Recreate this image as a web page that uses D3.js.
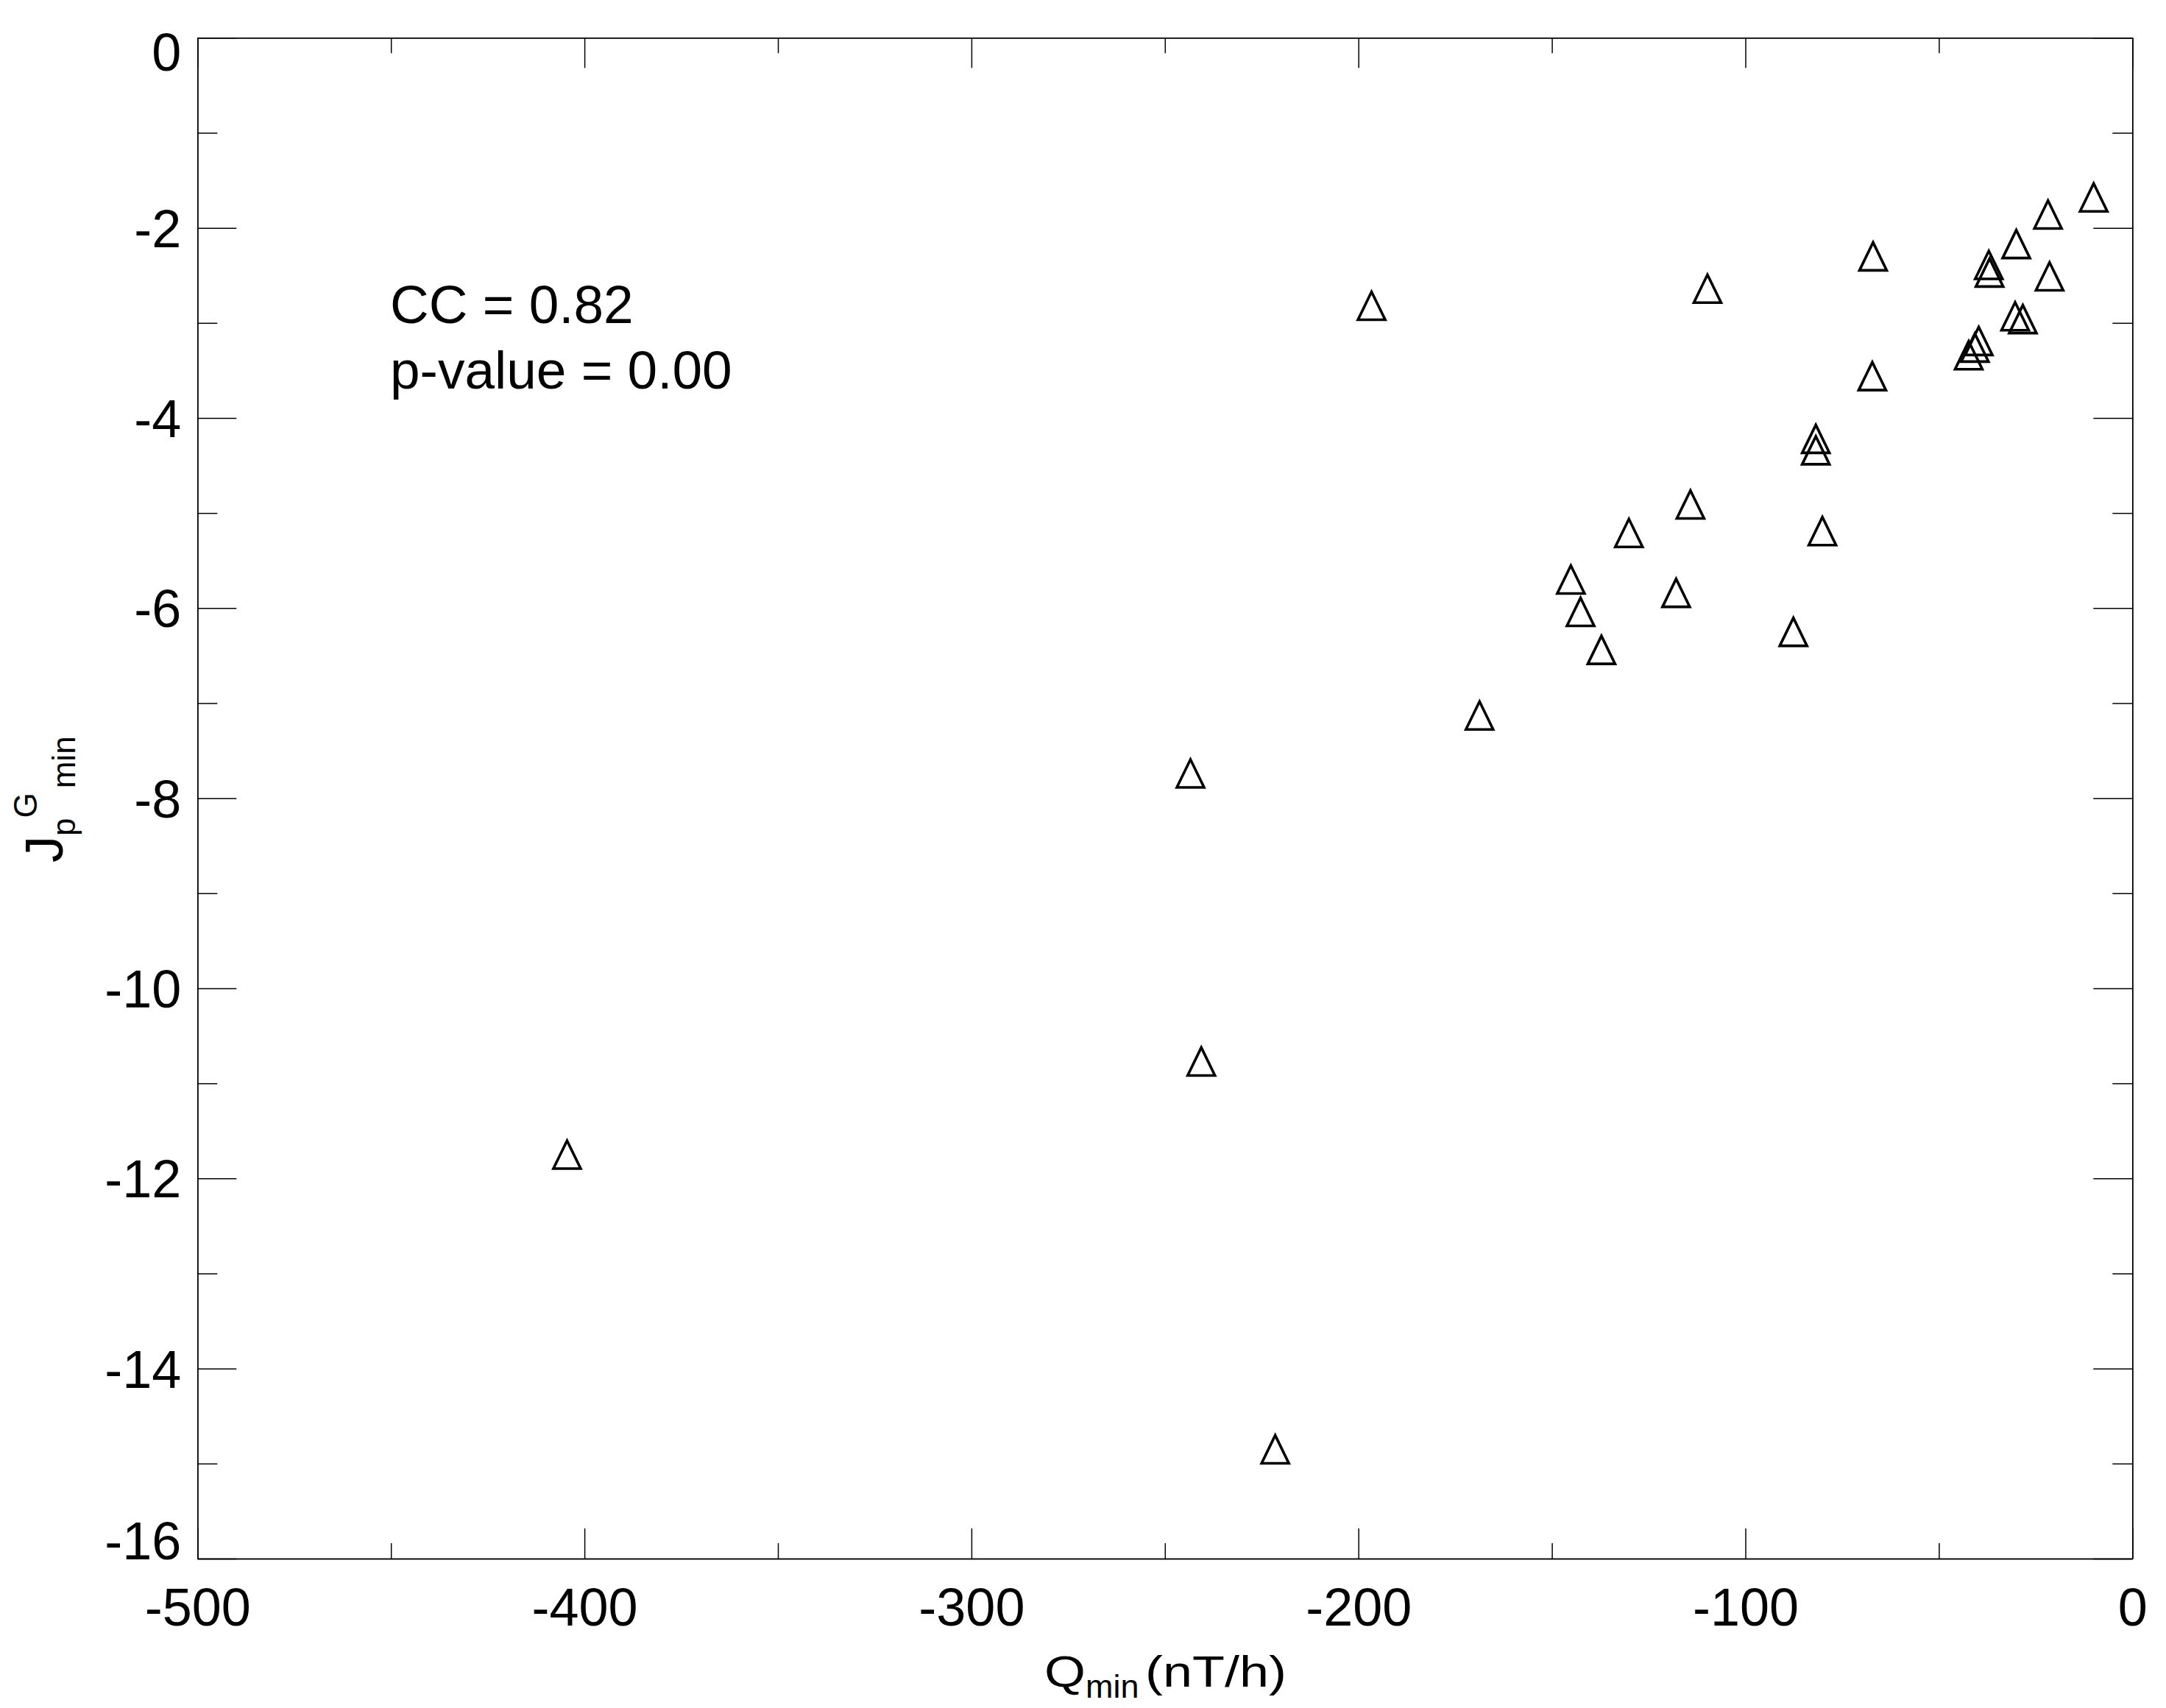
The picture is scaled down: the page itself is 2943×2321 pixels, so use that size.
<!DOCTYPE html>
<html>
<head>
<meta charset="utf-8"/>
<title>Qmin vs Jp min</title>
<script src="https://d3js.org/d3.v7.min.js"></script>
<style>
    body {margin: 0; background-color: white;}
    svg {display: block; font-family: "Liberation Sans", Arial, sans-serif;}
    .axis path, .axis line {stroke: black; stroke-width: 1.5px;}
    .axis text {font-family: "Liberation Sans", Arial, sans-serif; font-size: 72px; fill: black;}
</style>
</head>
<body>
<svg id="chart" width="2943" height="2321"></svg>
<script>

// values
var qmin = [-10.0, -21.8, -30.0, -67.0, -37.1, -36.9, -21.4, -30.3, -28.3, -39.7,
            -40.7, -42.3, -67.2, -109.8, -81.8, -81.8, -114.2, -130.1, -80.1, -145.1,
            -117.9, -142.6, -87.6, -137.2, -196.6, -168.7, -243.4, -240.6, -404.5, -221.5];
var jpmin = [-1.68, -1.86, -2.17, -2.30, -2.39, -2.47, -2.51, -2.93, -2.96, -3.19,
             -3.26, -3.34, -3.56, -2.64, -4.22, -4.34, -4.91, -5.21, -5.19, -5.70,
             -5.84, -6.04, -6.25, -6.44, -2.82, -7.13, -7.74, -10.77, -11.75, -14.85];

var xMajor = [-500, -400, -300, -200, -100, 0];
var xMinor = [-450, -350, -250, -150, -50];
var yMajor = [0, -2, -4, -6, -8, -10, -12, -14, -16];
var yMinor = [-1, -3, -5, -7, -9, -11, -13, -15];

var statLines = ["CC = 0.82", "p-value = 0.00"];

var pLeft = 268.3, pRight = 2897.3, pTop = 51.3, pBottom = 2118;

var svg = d3.select("#chart");
svg.append("rect").attr("width", 2943).attr("height", 2321).attr("fill", "white");

var x = d3.scaleLinear([-500, 0], [pLeft, pRight]);
var y = d3.scaleLinear([-16, 0], [pBottom, pTop]);

function fmt(d) { return String(d); }

// bottom
svg.append("g").attr("class", "axis").attr("transform", "translate(0," + pBottom + ")")
    .call(d3.axisBottom(x).tickValues(xMajor).tickSize(-41).tickSizeOuter(0).tickPadding(40).tickFormat(fmt));
svg.append("g").attr("class", "axis").attr("transform", "translate(0," + pBottom + ")")
    .call(d3.axisBottom(x).tickValues(xMinor).tickSize(-21).tickSizeOuter(0).tickFormat(""));
// top
svg.append("g").attr("class", "axis").attr("transform", "translate(0," + pTop + ")")
    .call(d3.axisTop(x).tickValues(xMajor).tickSize(-41).tickSizeOuter(0).tickFormat(""));
svg.append("g").attr("class", "axis").attr("transform", "translate(0," + pTop + ")")
    .call(d3.axisTop(x).tickValues(xMinor).tickSize(-21).tickSizeOuter(0).tickFormat(""));
// left
var yAx = svg.append("g").attr("class", "axis").attr("transform", "translate(" + pLeft + ",0)")
    .call(d3.axisLeft(y).tickValues(yMajor).tickSize(-53).tickSizeOuter(0).tickPadding(22).tickFormat(fmt));
svg.append("g").attr("class", "axis").attr("transform", "translate(" + pLeft + ",0)")
    .call(d3.axisLeft(y).tickValues(yMinor).tickSize(-27).tickSizeOuter(0).tickFormat(""));
// right
svg.append("g").attr("class", "axis").attr("transform", "translate(" + pRight + ",0)")
    .call(d3.axisRight(y).tickValues(yMajor).tickSize(-53).tickSizeOuter(0).tickFormat(""));
svg.append("g").attr("class", "axis").attr("transform", "translate(" + pRight + ",0)")
    .call(d3.axisRight(y).tickValues(yMinor).tickSize(-27).tickSizeOuter(0).tickFormat(""));

// idl style: end labels pushed inside
yAx.selectAll("text").attr("dy", function(d) {
    if (d == 0) return "44px";
    if (d == -16) return "0px";
    return "25.5px";
});

// triangles
var hw = 18.5, hh = 19;
svg.append("g").selectAll("path")
    .data(d3.range(qmin.length))
    .enter()
    .append("path")
    .attr("d", function(i) {
        var cx = x(qmin[i]), cy = y(jpmin[i]);
        return "M" + (cx - hw) + "," + (cy + hh) + "L" + cx + "," + (cy - hh) +
               "L" + (cx + hw) + "," + (cy + hh) + "Z";
    })
    .attr("fill", "none")
    .attr("stroke", "black")
    .attr("stroke-width", 3.6)
    .attr("stroke-linejoin", "miter");

// stats text
svg.append("g").selectAll("text")
    .data(statLines)
    .enter()
    .append("text")
    .attr("x", 530)
    .attr("y", (d, i) => 439 + i * 89)
    .attr("font-size", 73)
    .text(d => d);

// x title: Q_min(nT/h)
var xt = svg.append("g");
xt.append("text").attr("transform", "translate(1419,2292) scale(1,0.82)")
    .attr("font-size", 72).text("Q");
xt.append("text").attr("x", 1475).attr("y", 2307)
    .attr("font-size", 45).text("min");
xt.append("text").attr("transform", "translate(1556,2292) scale(1,0.82)")
    .attr("font-size", 72).text("(nT/h)");

// y title: J_p^G_min
var yt = svg.append("text")
    .attr("transform", "translate(85,1172) rotate(-90)")
    .attr("font-size", 72);
yt.append("tspan").text("J");
yt.append("tspan").attr("font-size", 44).attr("dy", 17).text("p");
yt.append("tspan").attr("font-size", 44).attr("dy", -52).text("G");
yt.append("tspan").attr("font-size", 44).attr("dx", 6).attr("dy", 52).text("min");

</script>
</body>
</html>
